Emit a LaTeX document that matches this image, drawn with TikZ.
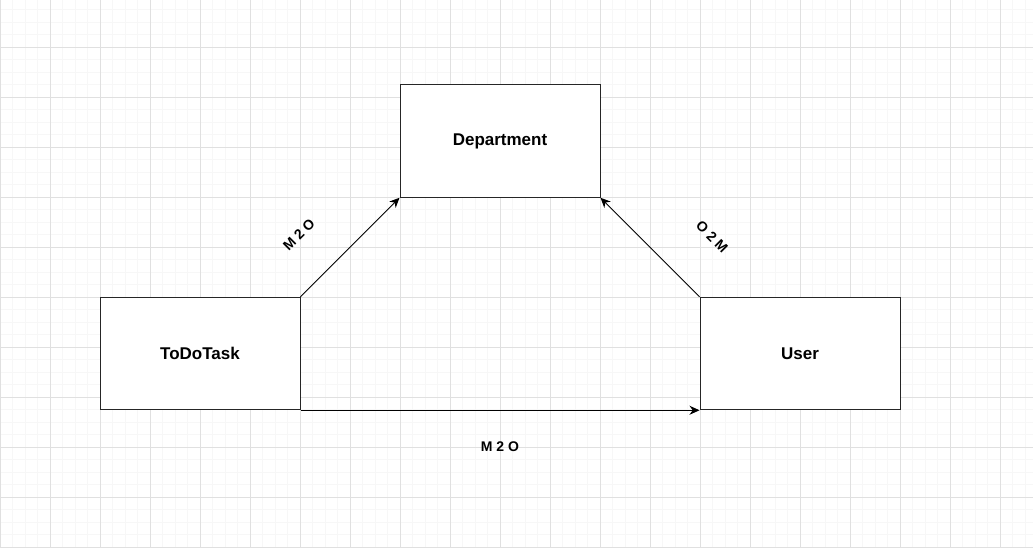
\documentclass[tikz,border=0pt]{standalone}
\usepackage{fontspec}
\setmainfont{Liberation Sans}
\usetikzlibrary{arrows.meta}
\newcommand{\boxFont}{\bfseries\fontsize{17}{20}\selectfont}
\newcommand{\relFont}{\bfseries\fontsize{14}{17}\selectfont}

\begin{document}
\begin{tikzpicture}[x=1pt,y=-1pt,
  entity/.style={draw=black!85, fill=white, line width=1pt, minimum width=200pt, minimum height=112.5pt, inner sep=0pt, font=\boxFont},
  relation/.style={font=\relFont, inner sep=0pt},
  link/.style={draw=black, line width=1pt, -{Stealth[length=10pt,width=9pt]}}]
  \useasboundingbox (0,0) rectangle (1033,547);
  \fill[white] (0,0) rectangle (1033,547);

  % Grid
  \foreach \x in {0,12.5,...,1033} {
    \draw[gray!6, line width=1pt] (\x,0) -- (\x,547);
  }
  \foreach \y in {9.5,22,...,547} {
    \draw[gray!6, line width=1pt] (0,\y) -- (1033,\y);
  }
  \foreach \x in {0,50,...,1033} {
    \draw[gray!24, line width=1pt] (\x,0) -- (\x,547);
  }
  \foreach \y in {47,97,...,547} {
    \draw[gray!24, line width=1pt] (0,\y) -- (1033,\y);
  }

  % Entities
  \node[entity] (dept) at (500,141) {Department};
  \node[entity] (todo) at (200,353.5) {ToDoTask};
  \node[entity] (user) at (800,353.5) {User};

  % Relations
  \draw[link] (todo.north east) -- (dept.south west);
  \draw[link] (user.north west) -- (dept.south east);
  \draw[link] (todo.south east) -- (user.south west);
  \node[relation, rotate=45] (todoDept) at (299,235) {M 2 O};
  \node[relation, rotate=-45] (userDept) at (712,237) {O 2 M};
  \node[relation] (todoUser) at (500,447) {M 2 O};
\end{tikzpicture}
\end{document}
